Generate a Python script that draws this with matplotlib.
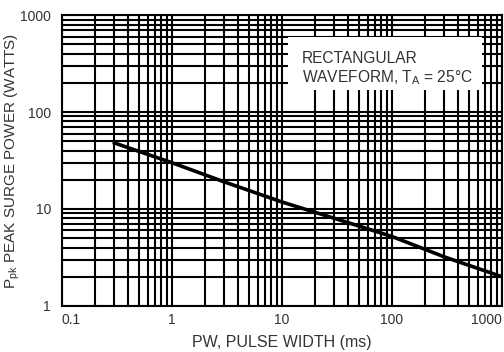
import matplotlib
matplotlib.use("Agg")
import matplotlib.pyplot as plt
from matplotlib.patches import Rectangle
from matplotlib.ticker import LogLocator, NullFormatter, FixedLocator, FixedFormatter

plt.rcParams['font.family'] = ['Liberation Sans', 'DejaVu Sans']

pulse_width_ms = [0.3, 1, 3, 10, 30, 100, 300, 1000]
peak_power_w = [48, 30, 19, 11.8, 8.0, 5.2, 3.2, 2.0]

x_ticks = [0.1, 1, 10, 100, 1000]
x_tick_labels = ["0.1", "1", "10", "100", "1000"]
y_ticks = [1, 10, 100, 1000]
y_tick_labels = ["1", "10", "100", "1000"]

fig = plt.figure(figsize=(5.04, 3.52), dpi=100)
ax = fig.add_axes([0.123, 0.131, 0.873, 0.826])
ax.set_xscale('log')
ax.set_yscale('log')
ax.set_xlim(0.1, 1000)
ax.set_ylim(1, 1000)

ax.xaxis.set_major_locator(FixedLocator(x_ticks))
ax.xaxis.set_major_formatter(FixedFormatter(x_tick_labels))
ax.yaxis.set_major_locator(FixedLocator(y_ticks))
ax.yaxis.set_major_formatter(FixedFormatter(y_tick_labels))
ax.xaxis.set_minor_locator(LogLocator(base=10, subs=range(2, 10)))
ax.yaxis.set_minor_locator(LogLocator(base=10, subs=range(2, 10)))
ax.xaxis.set_minor_formatter(NullFormatter())
ax.yaxis.set_minor_formatter(NullFormatter())

ax.grid(True, which='both', color='black', linewidth=1.5)
ax.tick_params(which='both', length=0, labelsize=10, colors='#333333')
ax.tick_params(axis='x', pad=5)
ax.tick_params(axis='y', pad=8)
for s in ax.spines.values():
    s.set_linewidth(1.5)

xl = ax.get_xticklabels()
xl[0].set_horizontalalignment('left')
xl[-1].set_horizontalalignment('right')

ax.plot(pulse_width_ms, peak_power_w, color='black', linewidth=2.6, zorder=3)

ax.add_patch(Rectangle((0.514, 0.742), 0.441, 0.182, transform=ax.transAxes,
                       facecolor='white', edgecolor='none', zorder=4))
ax.text(0.545, 0.835, "RECTANGULAR", transform=ax.transAxes, fontsize=11.2,
        va='baseline', ha='left', color='#333333', zorder=5)
ax.text(0.545, 0.770, "WAVEFORM, T$_\\mathregular{A}$ = 25°C", transform=ax.transAxes,
        fontsize=11.2, va='baseline', ha='left', color='#333333', zorder=5)

ax.set_xlabel("PW, PULSE WIDTH (ms)", fontsize=11.5, labelpad=6, color='#333333')
ax.set_ylabel("P$_\\mathregular{pk}$ PEAK SURGE POWER (WATTS)", fontsize=11,
              color='#333333')
ax.yaxis.set_label_coords(-0.09, 0.5)

fig.savefig("out.png", dpi=100)
